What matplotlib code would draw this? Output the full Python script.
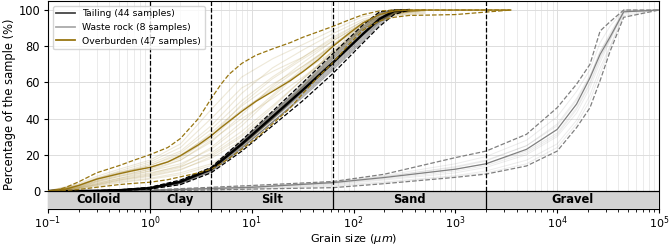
import matplotlib
matplotlib.use("Agg")
import matplotlib.pyplot as plt
from matplotlib.lines import Line2D

# ---------------- data ----------------
# Overburden (47 samples)
ob_size = [0.1, 0.13, 0.15, 0.2, 0.3, 0.5, 0.7, 1, 1.5, 2, 3, 4, 5, 6, 8, 11, 16, 24, 32, 45, 63, 90, 125, 180, 250, 350, 1000, 3500]
ob_mean = [0, 0.3, 1, 3, 6.5, 9.5, 11.3, 13, 16, 19.5, 25.5, 30.5, 35, 38.5, 44, 49.5, 55, 61, 66, 72.5, 80, 87, 93, 97.5, 99.5, 100, 100, 100]
ob_high = [0, 0.8, 2, 5, 10, 14, 17, 20, 24, 29, 40, 51, 59, 64.5, 70.5, 75, 78.5, 82, 85, 88, 91, 94.5, 97.5, 99.5, 100, 100, 100, 100]
ob_low = [0, 0, 0.2, 0.8, 2, 3.5, 4.2, 4.8, 6.2, 7.8, 10, 12, 15, 18, 23, 29, 37, 46, 54, 63, 71, 81, 89, 94, 96, 97, 97.5, 100]

ob_sample_size = [0.1, 0.2, 0.3, 0.5, 1, 2, 4, 8, 16, 32, 63, 125, 250, 500]
ob_samples = [
    [0, 4, 8, 12, 17, 26, 45, 63, 73, 81, 89, 96.5, 99.5, 100],
    [0, 3, 6.5, 10, 15, 22, 36, 54, 68, 78, 87, 95, 99, 100],
    [0, 2.5, 5.5, 8.5, 12, 17, 27, 42, 58, 71, 83, 93, 98.5, 100],
    [0, 2, 5, 8, 11, 15, 23, 36, 52, 67, 80, 92, 98, 100],
    [0, 2, 4.5, 7, 10, 13.5, 20, 31, 46, 62, 77, 91, 98, 99.5],
    [0, 1.5, 3.5, 6, 8.5, 12, 18, 28, 42, 58, 74, 90, 97.5, 99],
    [0, 1.2, 3, 5, 7, 10, 15, 25, 39, 56, 73, 90, 97, 98.5],
    [0, 3.5, 7, 10.5, 13, 18, 30, 48, 62, 73, 83, 93, 98.5, 100],
    [0, 1.8, 4, 7, 11, 17, 28, 40, 51, 63, 76, 90, 98, 100],
    [0, 2.2, 5, 8, 12, 19, 32, 47, 59, 69, 80, 92, 98.5, 100],
    [0, 1, 2.5, 4.5, 6.5, 9, 14, 24, 40, 58, 75, 91, 97, 98],
    [0, 2.8, 6, 9.5, 14, 21, 34, 50, 63, 74, 85, 94, 99, 100],
    [0, 1.5, 3.5, 6, 9, 13, 21, 33, 47, 62, 76, 90, 97.5, 99.5],
    [0, 2.5, 5.5, 9, 13, 19, 29, 44, 57, 69, 81, 93, 98.5, 100],
    [0, 3, 6.5, 10, 14, 20, 31, 45, 56, 66, 77, 91, 98, 100],
    [0, 1.8, 4, 6.5, 9.5, 14, 24, 38, 53, 68, 81, 93, 98.5, 100],
    [0, 3.2, 7, 11, 16, 24, 40, 57, 66, 74, 84, 94, 99, 100],
    [0, 1.4, 3.2, 5.5, 8, 11.5, 19, 30, 44, 60, 78, 92, 98, 100],
]

# Tailing (44 samples)
ta_size = [0.1, 0.2, 0.3, 0.5, 1, 2, 4, 8, 16, 32, 63, 125, 180, 250, 350]
ta_mean = [0, 0, 0.1, 0.4, 1.5, 5, 12, 26, 41, 56, 71, 87, 95, 99.5, 100]
ta_high = [0, 0, 0.2, 0.6, 2, 6, 13, 28, 44, 60, 76, 92, 99, 100, 100]
ta_low = [0, 0, 0.05, 0.2, 1, 3.5, 10, 22, 36, 50, 65, 82, 91, 97.5, 100]
ta_samples = [
    [0, 0, 0.1, 0.5, 1.8, 5.5, 12.5, 27, 43, 58, 74, 90, 98, 100, 100],
    [0, 0, 0.1, 0.4, 1.4, 4.8, 11.5, 25, 40, 55, 70, 86, 94, 99, 100],
    [0, 0, 0.1, 0.3, 1.2, 4.2, 11, 24, 38, 53, 68, 84, 93, 98.5, 100],
    [0, 0, 0.1, 0.4, 1.6, 5.2, 12, 26, 41.5, 57, 72, 88, 96, 99.5, 100],
    [0, 0, 0.1, 0.5, 1.7, 5.4, 12.5, 26.5, 42, 57.5, 73, 89, 97, 100, 100],
    [0, 0, 0.1, 0.3, 1.3, 4.5, 11.5, 25, 39.5, 54, 69, 85, 93.5, 99, 100],
    [0, 0, 0.1, 0.4, 1.5, 5, 12, 25.5, 40.5, 55.5, 71, 87, 95.5, 99.5, 100],
    [0, 0, 0.1, 0.35, 1.2, 4, 10.5, 23.5, 38, 52, 67, 83, 92, 98, 100],
    [0, 0, 0.15, 0.5, 1.8, 5.6, 12.8, 27.5, 43, 59, 75, 91, 98.5, 100, 100],
    [0, 0, 0.1, 0.4, 1.5, 4.9, 11.8, 25.5, 40, 55, 70.5, 86.5, 95, 99.5, 100],
]

# Waste rock (8 samples)
wr_size = [0.1, 1, 10, 63, 200, 1000, 2000, 5000, 1e4, 1.55e4, 2.1e4, 2.64e4, 3.3e4, 4.5e4, 1e5]
wr_mean = [0, 0.3, 2, 4.6, 7.4, 12, 15, 23, 34, 48, 62.5, 75.5, 85, 99, 100]
wr_high = [0, 0.5, 3, 5.2, 9.2, 18.4, 22, 31.3, 46, 59, 70, 88.4, 93.5, 100, 100]
wr_low = [0, 0, 1, 1.8, 4, 7.5, 9.3, 13.8, 22, 35, 46, 61, 77, 96, 100]
wr_samples = [
    [0, 0.4, 2.5, 5, 8.5, 15, 19, 28, 41, 55, 67, 82, 91, 100, 100],
    [0, 0.2, 1.5, 3.5, 6, 10, 13, 20, 30, 43, 57, 71, 83, 99, 100],
    [0, 0.3, 2, 4, 6.5, 11, 14, 21, 31, 45, 59, 73, 84, 99, 100],
    [0, 0.2, 1.2, 3, 5, 8.5, 11, 17, 26, 39, 53, 68, 80, 98, 100],
    [0, 0.4, 2.2, 4.8, 8, 13, 16.5, 25, 37, 51, 64, 77, 87, 100, 100],
    [0, 0.1, 1, 2.5, 4.5, 8, 10, 15, 24, 37, 50, 65, 79, 97, 100],
    [0, 0.3, 1.8, 4.2, 7, 12, 15, 22, 32, 46, 60, 74, 84, 99, 100],
    [0, 0.4, 2.4, 4.6, 7.8, 13.5, 17, 25, 36, 50, 63, 77, 86, 99.5, 100],
]

legend_labels = ["Tailing (44 samples)", "Waste rock (8 samples)", "Overburden (47 samples)"]

# grain-size classes
class_bounds = [0.1, 1, 4, 63, 2000, 1e5]
class_names = ["Colloid", "Clay", "Silt", "Sand", "Gravel"]
x_major_ticks = [0.1, 1, 10, 100, 1000, 1e4, 1e5]
y_ticks = [0, 20, 40, 60, 80, 100]

# ---------------- style ----------------
OB = "#987611"
TA = "black"
WR = "#808080"
FS = 8.3

fig = plt.figure(figsize=(6.69, 2.46), dpi=100)
ax = fig.add_axes([48 / 669, 1 - 209 / 246, 611 / 669, 208 / 246])
ax.set_xscale("log")
ax.set_xlim(0.1, 1e5)
ax.set_ylim(-10, 105)
ax.set_xticks(x_major_ticks)
ax.set_yticks(y_ticks)

ax.set_axisbelow(True)
ax.grid(True, which="major", color="#dddddd", lw=0.7)
ax.grid(True, which="minor", axis="x", color="#e8e8e8", lw=0.6)

# individual samples
for s in wr_samples:
    ax.plot(wr_size, s, color=WR, alpha=0.15, lw=0.7, zorder=2)
for s in ob_samples:
    ax.plot(ob_sample_size, s, color=OB, alpha=0.16, lw=0.8, zorder=2)
for s in ta_samples:
    ax.plot(ta_size, s, color=TA, alpha=0.3, lw=0.9, zorder=2)

# envelopes and means
ax.plot(wr_size, wr_high, color=WR, ls="--", lw=0.9, zorder=3)
ax.plot(wr_size, wr_low, color=WR, ls="--", lw=0.9, zorder=3)
ax.plot(wr_size, wr_mean, color=WR, lw=0.9, zorder=3)

ax.plot(ta_size, ta_high, color=TA, ls="--", lw=0.9, zorder=3)
ax.plot(ta_size, ta_low, color=TA, ls="--", lw=0.9, zorder=3)
ax.plot(ta_size, ta_mean, color=TA, lw=1.7, zorder=3)

ax.plot(ob_size, ob_high, color=OB, ls="--", lw=0.9, zorder=3)
ax.plot(ob_size, ob_low, color=OB, ls="--", lw=0.9, zorder=3)
ax.plot(ob_size, ob_mean, color=OB, lw=1.0, zorder=3)

# class band
ax.axhspan(-10, 0, facecolor="#d3d3d3", edgecolor="none", zorder=4)
ax.axhline(0, color="black", lw=0.9, zorder=5)
for b in class_bounds[1:-1]:
    ax.plot([b, b], [0, 105], color="black", ls="--", lw=0.9, zorder=5)
    ax.plot([b, b], [-10, 0], color="black", lw=0.9, zorder=5)
for i, name in enumerate(class_names):
    lo, hi = class_bounds[i], class_bounds[i + 1]
    xm = (lo * hi) ** 0.5
    ax.text(xm, -5, name, ha="center", va="center", fontsize=FS,
            fontweight="bold", zorder=6)

ax.tick_params(labelsize=FS, width=0.8, length=3.2, pad=2.5)
ax.tick_params(axis="x", pad=0.4, labelsize=8.0)
ax.tick_params(which="minor", width=0.6, length=2)
for sp in ax.spines.values():
    sp.set_linewidth(0.8)

# axis labels placed explicitly so they stay inside the canvas
fig.text((48 + 305.5) / 669, 0.5 / 246, "Grain size ($\\mu m$)", fontsize=8.1,
         ha="center", va="bottom")
fig.text(3 / 669, 1 - 104.5 / 246, "Percentage of the sample (%)", fontsize=FS,
         ha="left", va="center", rotation=90)

handles = [Line2D([], [], color="#444444", lw=1.3),
           Line2D([], [], color="#aaaaaa", lw=1.3),
           Line2D([], [], color=OB, lw=1.3)]
ax.legend(handles, legend_labels, loc="upper left", fontsize=6.7,
          borderaxespad=0.5, handlelength=2.0)

fig.savefig("out.png", dpi=100)
